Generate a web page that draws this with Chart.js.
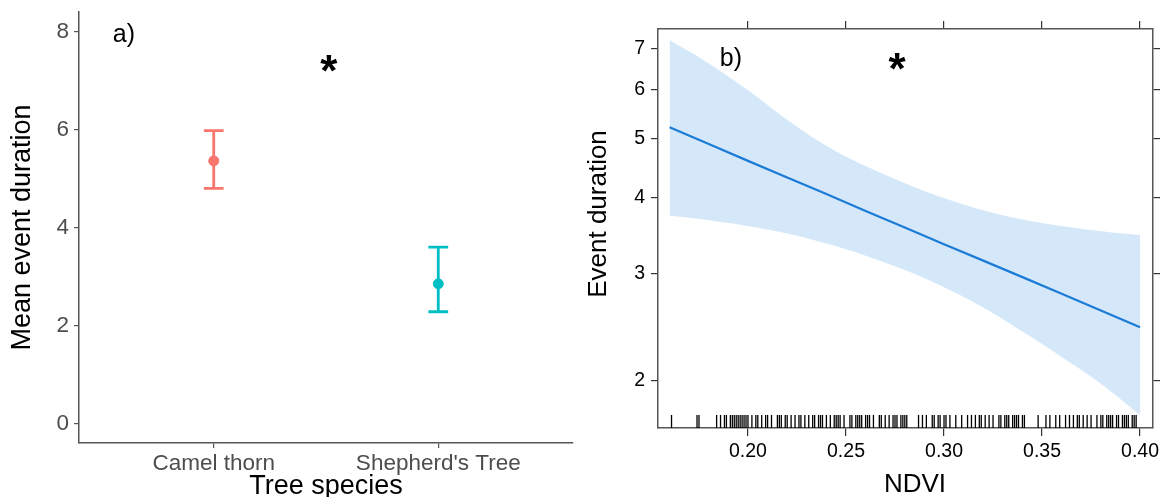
<!DOCTYPE html>
<html>
<head>
<meta charset="utf-8">
<script src="https://cdn.jsdelivr.net/npm/chart.js@4.4.0/dist/chart.umd.min.js"></script>
<style>
  html, body { margin: 0; padding: 0; background: #fff; overflow: hidden; }
  #wrapA { position: absolute; left: 0; top: 0; width: 580px; height: 510px; }
  #wrapB { position: absolute; left: 580px; top: 0; width: 584px; height: 510px; }
</style>
</head>
<body>
<div id="wrapA"><canvas id="chartA"></canvas></div>
<div id="wrapB"><canvas id="chartB"></canvas></div>
<script>
// panel a) - mean event duration per species
const species = ["Camel thorn", "Shepherd's Tree"];
const meanDur = [5.36, 2.85];
const ciLow = [4.80, 2.28];
const ciHigh = [5.98, 3.60];
const speciesColors = ['#F8766D', '#00BFC4'];
const durTicksA = [0, 2, 4, 6, 8];

// panel b) - fitted event duration vs NDVI
const ndviGrid = [0.16, 0.18, 0.20, 0.22, 0.24, 0.26, 0.28, 0.30, 0.32, 0.34, 0.36, 0.38, 0.40];
const fitDur =   [5.21, 4.89, 4.59, 4.31, 4.05, 3.80, 3.57, 3.35, 3.15, 2.96, 2.78, 2.61, 2.45];
const fitUpper = [7.24, 6.63, 5.99, 5.36, 4.86, 4.50, 4.22, 3.99, 3.81, 3.68, 3.59, 3.52, 3.47];
const fitLower = [3.73, 3.67, 3.59, 3.49, 3.36, 3.21, 3.04, 2.85, 2.64, 2.41, 2.19, 1.98, 1.76];
const ndviTicks = [0.20, 0.25, 0.30, 0.35, 0.40];
const durTicksB = [2, 3, 4, 5, 6, 7];
const rugNdvi = [0.161, 0.174, 0.175, 0.184, 0.186, 0.188, 0.189, 0.191, 0.192, 0.193, 0.194,
  0.195, 0.196, 0.197, 0.198, 0.199, 0.200, 0.202, 0.204, 0.205, 0.207, 0.209, 0.210, 0.212,
  0.215, 0.216, 0.217, 0.219, 0.220, 0.222, 0.224, 0.226, 0.227, 0.229, 0.231, 0.233, 0.234,
  0.236, 0.237, 0.238, 0.240, 0.242, 0.244, 0.245, 0.246, 0.247, 0.249, 0.252, 0.253, 0.255,
  0.256, 0.257, 0.258, 0.260, 0.261, 0.262, 0.264, 0.267, 0.268, 0.270, 0.272, 0.274, 0.275,
  0.276, 0.278, 0.279, 0.280, 0.281, 0.287, 0.289, 0.291, 0.294, 0.295, 0.297, 0.298, 0.300,
  0.301, 0.303, 0.306, 0.309, 0.312, 0.314, 0.316, 0.318, 0.319, 0.321, 0.323, 0.325, 0.328,
  0.329, 0.331, 0.332, 0.333, 0.335, 0.336, 0.337, 0.338, 0.340, 0.341, 0.348, 0.352, 0.354,
  0.357, 0.359, 0.362, 0.364, 0.366, 0.368, 0.369, 0.371, 0.373, 0.375, 0.378, 0.380, 0.381,
  0.383, 0.384, 0.385, 0.386, 0.388, 0.389, 0.391, 0.392, 0.393, 0.394, 0.396, 0.397, 0.398];
const rugLevel = 1.717;

Chart.defaults.font.family = "'Liberation Sans', Arial, sans-serif";
Chart.defaults.animation = false;

// text labels placed in data coordinates
const panelText = {
  id: 'panelText',
  afterDatasetsDraw(chart, args, opts) {
    const { ctx, scales } = chart;
    (opts.items || []).forEach(t => {
      ctx.save();
      ctx.font = t.font;
      ctx.fillStyle = '#000';
      ctx.textAlign = 'center';
      ctx.textBaseline = 'middle';
      ctx.fillText(t.text, scales.x.getPixelForValue(t.x), scales.y.getPixelForValue(t.y));
      ctx.restore();
    });
  }
};

// lattice puts its axis titles a little off the panel centre
const freeTitles = {
  id: 'freeTitles',
  afterDraw(chart, args, opts) {
    const { ctx } = chart;
    (opts.items || []).forEach(t => {
      ctx.save();
      ctx.font = t.font;
      ctx.fillStyle = '#000';
      ctx.textAlign = 'center';
      ctx.textBaseline = 'middle';
      ctx.translate(t.x, t.y);
      if (t.rotate) ctx.rotate(t.rotate);
      ctx.fillText(t.text, 0, 0);
      ctx.restore();
    });
  }
};

function errBar(i) {
  const x = i + 1, w = 0.044;
  return [
    { x: x - w, y: ciHigh[i] }, { x: x + w, y: ciHigh[i] }, { x: x + w, y: null },
    { x: x, y: ciHigh[i] }, { x: x, y: ciLow[i] }, { x: x, y: null },
    { x: x - w, y: ciLow[i] }, { x: x + w, y: ciLow[i] }
  ];
}

const tickGrid = (len, color) => ({
  display: true, drawOnChartArea: false, drawTicks: true,
  tickLength: len, color: color, lineWidth: 1.2
});

new Chart(document.getElementById('chartA'), {
  type: 'line',
  data: {
    datasets: [
      {
        data: species.map((s, i) => ({ x: i + 1, y: meanDur[i] })),
        showLine: false,
        pointRadius: 5,
        pointBackgroundColor: speciesColors,
        pointBorderColor: speciesColors
      },
      ...species.map((s, i) => ({
        data: errBar(i),
        borderColor: speciesColors[i],
        borderWidth: 2.8,
        pointRadius: 0,
        spanGaps: false
      }))
    ]
  },
  options: {
    responsive: true,
    maintainAspectRatio: false,
    events: [],
    layout: { padding: { top: 12, right: 7, left: 0, bottom: 0 } },
    plugins: {
      legend: { display: false },
      tooltip: { enabled: false },
      panelText: {
        items: [
          { text: 'a)', x: 0.60, y: 7.93, font: "25px 'Liberation Sans', Arial" },
          { text: '*', x: 1.513, y: 7.14, font: "bold 44px 'Liberation Sans', Arial" }
        ]
      }
    },
    scales: {
      x: {
        type: 'linear',
        min: 0.4,
        max: 2.6,
        afterBuildTicks: s => { s.ticks = species.map((n, i) => ({ value: i + 1 })); },
        afterFit: s => { s.height = 67; s.paddingLeft = 0; s.paddingRight = 0; },
        grid: tickGrid(5, '#555'),
        border: { display: true, color: '#555', width: 1.5 },
        ticks: {
          color: '#4D4D4D', font: { size: 22.5 }, padding: 2, maxRotation: 0, autoSkip: false,
          callback: (v, i) => species[i]
        },
        title: {
          display: true, text: 'Tree species', color: '#000',
          font: { size: 27 }, padding: { top: 0, bottom: 7 }
        }
      },
      y: {
        type: 'linear',
        min: -0.4,
        max: 8.4,
        afterBuildTicks: s => { s.ticks = durTicksA.map(v => ({ value: v })); },
        afterFit: s => { s.width = 79; s.paddingTop = 0; s.paddingBottom = 0; },
        grid: tickGrid(5, '#555'),
        border: { display: true, color: '#555', width: 1.5 },
        ticks: { color: '#4D4D4D', font: { size: 22.5 }, padding: 5 },
        title: {
          display: true, text: 'Mean event duration', color: '#000',
          font: { size: 27 }, padding: { top: 6, bottom: 0 }
        }
      }
    }
  },
  plugins: [panelText]
});

new Chart(document.getElementById('chartB'), {
  type: 'line',
  data: {
    datasets: [
      {
        data: rugNdvi.map(v => ({ x: v, y: rugLevel })),
        showLine: false,
        pointStyle: 'line',
        rotation: 90,
        pointRadius: 6.5,
        borderColor: '#000',
        pointBorderWidth: 1.3
      },
      {
        data: ndviGrid.map((v, i) => ({ x: v, y: fitDur[i] })),
        borderColor: '#1C7CD5',
        borderWidth: 2.2,
        pointRadius: 0
      },
      {
        data: ndviGrid.map((v, i) => ({ x: v, y: fitUpper[i] })),
        borderWidth: 0,
        pointRadius: 0,
        tension: 0.4,
        backgroundColor: '#D5E8FA',
        fill: '+1'
      },
      {
        data: ndviGrid.map((v, i) => ({ x: v, y: fitLower[i] })),
        borderWidth: 0,
        pointRadius: 0,
        tension: 0.4
      }
    ]
  },
  options: {
    responsive: true,
    maintainAspectRatio: false,
    events: [],
    layout: { padding: 0 },
    plugins: {
      legend: { display: false },
      tooltip: { enabled: false },
      panelText: {
        items: [
          { text: 'b)', x: 0.1913, y: 6.74, font: "25px 'Liberation Sans', Arial" },
          { text: '*', x: 0.276, y: 6.43, font: "bold 44px 'Liberation Sans', Arial" }
        ]
      },
      freeTitles: {
        items: [
          { text: 'Event duration', x: 19, y: 214, rotate: -Math.PI / 2, font: "26px 'Liberation Sans', Arial" },
          { text: 'NDVI', x: 335, y: 485, font: "26px 'Liberation Sans', Arial" }
        ]
      }
    },
    scales: {
      x: {
        type: 'linear',
        min: 0.1541,
        max: 0.4066,
        afterBuildTicks: s => { s.ticks = ndviTicks.map(v => ({ value: v })); },
        afterFit: s => { s.height = 82; s.paddingLeft = 0; s.paddingRight = 0; },
        grid: tickGrid(8, '#333'),
        border: { display: true, color: '#555', width: 1.5 },
        ticks: { color: '#000', font: { size: 19.5 }, padding: 4, maxRotation: 0, autoSkip: false,
          callback: v => v.toFixed(2) }
      },
      x2: {
        type: 'linear',
        position: 'top',
        min: 0.1541,
        max: 0.4066,
        afterBuildTicks: s => { s.ticks = ndviTicks.map(v => ({ value: v })); },
        afterFit: s => { s.height = 29; s.paddingLeft = 0; s.paddingRight = 0; },
        grid: tickGrid(8, '#333'),
        border: { display: true, color: '#555', width: 1.5 },
        ticks: { display: false }
      },
      y: {
        type: 'logarithmic',
        min: 1.675,
        max: 7.55,
        afterBuildTicks: s => { s.ticks = durTicksB.map(v => ({ value: v })); },
        afterFit: s => { s.width = 78; s.paddingTop = 0; s.paddingBottom = 0; },
        grid: tickGrid(7, '#333'),
        border: { display: true, color: '#555', width: 1.5 },
        ticks: { color: '#000', font: { size: 19.5 }, padding: 6, callback: v => String(v) }
      },
      y2: {
        type: 'logarithmic',
        position: 'right',
        min: 1.675,
        max: 7.55,
        afterBuildTicks: s => { s.ticks = durTicksB.map(v => ({ value: v })); },
        afterFit: s => { s.width = 11; s.paddingTop = 0; s.paddingBottom = 0; },
        grid: tickGrid(7, '#333'),
        border: { display: true, color: '#555', width: 1.5 },
        ticks: { display: false }
      }
    }
  },
  plugins: [panelText, freeTitles]
});
</script>
</body>
</html>
